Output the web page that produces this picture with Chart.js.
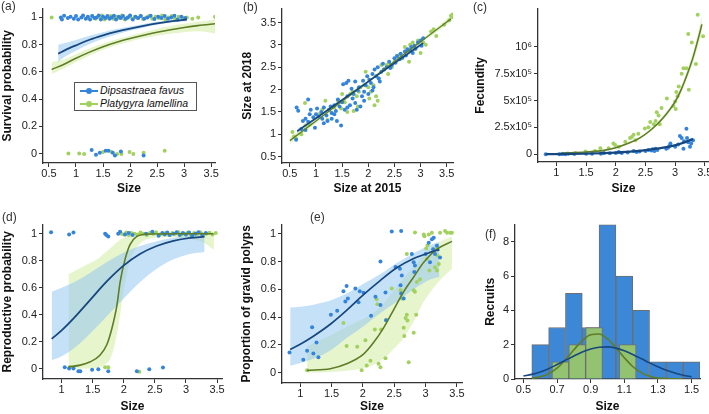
<!DOCTYPE html>
<html><head><meta charset="utf-8">
<script src="https://cdn.jsdelivr.net/npm/chart.js@4.4.1/dist/chart.umd.min.js"></script>
<style>
html,body{margin:0;padding:0;background:#fff;}
#wrap{position:relative;width:709px;height:414px;overflow:hidden;background:#fff;font-family:'Liberation Sans',Arial,sans-serif;}
canvas{position:absolute;}
.plab{position:absolute;font-size:12px;line-height:12px;color:#333;}
#leg{position:absolute;left:74px;top:82px;width:121px;height:27px;border:1px solid #555;background:#fff;z-index:5;font-size:10.5px;font-style:italic;color:#111;}
.row{position:absolute;left:0;width:121px;height:13px;line-height:13px;white-space:nowrap;}
.sym{position:absolute;left:5px;top:5.5px;width:18px;height:2px;}
.dotm{position:absolute;left:6px;top:-2px;width:6px;height:6px;border-radius:50%;}
.txt{position:absolute;left:25px;top:0;}
</style></head>
<body><div id="wrap"></div>
<script>
// ---------------- DATA ----------------
const seriesNames = ['Dipsastraea favus', 'Platygyra lamellina'];
const panelLabels = ['(a)', '(b)', '(c)', '(d)', '(e)', '(f)'];

// axis ticks / labels
const ticksSize05 = [0.5, 1, 1.5, 2, 2.5, 3, 3.5];
const labelsSize05 = ['0.5', '1', '1.5', '2', '2.5', '3', '3.5'];
const ticksSize1 = [1, 1.5, 2, 2.5, 3, 3.5];
const labelsSize1 = ['1', '1.5', '2', '2.5', '3', '3.5'];
const ticksProb = [0, 0.2, 0.4, 0.6, 0.8, 1];
const labelsProb = ['0', '0.2', '0.4', '0.6', '0.8', '1'];
const ticksFec = [0, 250000, 500000, 750000, 1000000];
const labelsFec = ['0', '2.5x10\u2075', '5x10\u2075', '7.5x10\u2075', '10\u2076'];
const ticksRecX = [0.5, 0.7, 0.9, 1.1, 1.3, 1.5];
const labelsRecX = ['0.5', '0.7', '0.9', '1.1', '1.3', '1.5'];
const ticksRecY = [0, 2, 4, 6, 8];
const labelsRecY = ['0', '2', '4', '6', '8'];

// (a) survival
const survBlueX = [0.72,0.74,0.78,0.85,0.9,0.96,1.0,1.04,1.1,1.13,1.18,1.22,1.26,1.3,1.34,1.38,1.42,1.46,1.5,1.54,1.58,1.62,1.66,1.7,1.74,1.79,1.83,1.87,1.92,1.96,2.0,2.05,2.1,2.15,2.2,2.26,2.32,2.38,2.45,2.52,2.58,2.64,2.7,2.76,2.82,2.88,2.95,3.02,
  1.29,1.37,1.44,1.55,1.60,1.68,1.72,1.83,2.25];
const survBlueY = [1.0,0.985,1.012,0.995,1.005,0.99,1.01,0.985,1.0,1.015,0.99,1.005,0.985,1.01,0.995,1.0,1.015,0.985,1.005,0.995,1.01,0.99,1.0,1.012,0.985,1.005,0.995,1.01,0.99,1.0,1.015,0.985,1.005,0.995,1.01,0.99,1.0,1.012,0.988,1.005,0.995,1.01,0.99,1.0,1.012,0.985,1.005,0.995,
  0.025,-0.01,0.005,0.02,0.02,0.005,-0.015,0.015,-0.015];
const survGreenX = [0.55,1.22,1.3,1.36,1.43,1.48,1.53,1.58,1.64,1.69,1.74,1.8,1.85,1.9,1.95,2.0,2.04,2.09,2.14,2.19,2.24,2.3,2.35,2.41,2.47,2.53,2.59,2.65,2.71,2.77,2.83,2.9,2.97,3.05,3.15,3.26,3.57,3.6,
  0.86,1.06,1.15,1.50,1.65,1.76,1.84,1.99,2.06,2.25,2.64];
const survGreenY = [1.0,0.995,1.01,0.99,1.005,1.015,0.985,1.0,1.01,0.99,1.005,0.995,1.015,0.985,1.0,1.01,0.99,1.005,0.995,1.012,0.988,1.0,1.01,0.99,1.005,0.995,1.015,0.985,1.0,1.01,0.99,1.005,0.995,1.0,0.99,1.0,1.005,0.995,
  0.0,0.0,-0.003,0.01,0.012,-0.004,-0.004,0.01,-0.003,0.005,0.02];
const survFitBlueX = [0.67,0.8,1.0,1.25,1.5,1.75,2.0,2.25,2.5,2.75,3.05];
const survFitBlueY = [0.734,0.76,0.795,0.836,0.868,0.895,0.918,0.938,0.956,0.971,0.985];
const survFitBlueLo = [0.675,0.712,0.755,0.805,0.843,0.875,0.902,0.925,0.946,0.962,0.972];
const survFitBlueHi = [0.80,0.812,0.835,0.866,0.892,0.915,0.934,0.952,0.968,0.982,0.995];
const survFitGreenX = [0.55,0.8,1.0,1.25,1.5,1.75,2.0,2.25,2.5,2.75,3.0,3.25,3.6];
const survFitGreenY = [0.617,0.66,0.70,0.745,0.785,0.818,0.845,0.869,0.891,0.910,0.926,0.940,0.955];
const survFitGreenLo = [0.585,0.63,0.672,0.72,0.762,0.796,0.823,0.847,0.866,0.881,0.892,0.898,0.88];
const survFitGreenHi = [0.67,0.695,0.73,0.772,0.808,0.839,0.866,0.891,0.916,0.937,0.954,0.969,0.985];

// (b) growth
const growBlueX = [0.63,0.66,0.62,0.85,0.72,0.75,0.80,0.85,0.88,0.90,0.95,1.00,1.02,1.05,1.10,1.12,1.15,1.20,1.22,1.25,1.30,1.30,1.35,1.38,1.40,1.45,1.48,1.50,1.52,1.55,1.58,1.60,1.62,1.65,1.70,1.72,1.75,1.78,1.80,1.82,1.85,1.88,1.90,1.92,1.95,1.98,2.00,2.02,2.05,2.08,2.10,2.12,2.15,2.18,2.20,2.25,2.28,2.30,2.35,2.40,2.42,2.45,2.50,2.52,2.55,2.60,2.62,2.65,2.70,2.72,2.75,2.80,2.82,2.85,2.88,2.90,2.95,3.00,3.02,3.05,1.15,0.98,1.28,1.42,1.68,2.08,2.22,1.75,1.92,1.60,1.35,0.80];
const growBlueY = [1.60,1.53,0.88,1.78,1.12,1.30,1.35,1.28,1.45,1.55,1.38,1.45,1.58,1.40,1.50,1.35,1.60,1.42,1.30,1.55,1.48,1.35,1.65,1.52,1.30,1.62,1.20,1.72,2.12,1.55,2.15,1.85,2.20,1.65,1.80,1.90,2.18,1.55,1.98,2.05,1.62,1.85,2.20,1.95,2.10,2.30,1.90,2.22,2.15,2.35,2.05,2.45,2.30,2.50,2.25,2.40,2.58,2.45,2.50,2.62,2.48,2.55,2.70,2.60,2.75,2.68,2.80,2.72,2.85,2.76,2.90,2.88,2.95,2.82,2.98,2.92,3.05,3.10,2.98,3.15,1.25,1.15,1.62,1.78,2.02,1.98,2.18,1.70,1.75,1.60,1.45,1.10];
const growGreenX = [0.55,0.58,0.62,0.72,0.80,0.88,0.79,1.05,1.12,1.18,1.22,1.30,1.35,1.42,1.48,1.55,1.60,1.65,1.70,1.72,1.78,1.80,1.82,1.85,1.92,1.95,2.00,2.02,2.05,2.10,2.15,2.18,2.20,2.25,2.30,2.35,2.38,2.40,2.45,2.50,2.55,2.60,2.65,2.70,2.75,2.78,2.80,2.85,2.90,2.95,3.00,3.05,3.10,3.20,3.25,3.30,3.45,3.55,3.58,3.60,3.61,2.12,1.50];
const growGreenY = [1.05,0.95,0.90,1.00,1.20,1.22,1.70,1.45,1.55,1.75,1.32,1.48,1.60,1.75,1.58,1.72,1.50,1.90,1.95,1.52,1.85,1.62,1.95,2.05,2.10,2.40,2.05,1.80,1.95,2.10,1.85,1.75,2.25,2.55,2.45,2.55,2.35,2.60,2.50,2.62,2.75,2.78,2.70,2.95,2.85,2.62,3.00,3.05,2.90,3.10,2.82,3.05,3.00,3.30,3.35,3.20,3.45,3.55,3.65,3.62,3.68,1.65,1.90];
const growFitBlueX = [0.64,1.0,1.5,2.0,2.5,3.05];
const growFitBlueY = [1.07,1.36,1.77,2.18,2.59,3.04];
const growFitBlueLo = [1.02,1.33,1.745,2.16,2.565,2.99];
const growFitBlueHi = [1.12,1.39,1.795,2.20,2.615,3.09];
const growFitGreenX = [0.5,1.0,1.5,2.0,2.5,3.0,3.58];
const growFitGreenY = [0.86,1.30,1.74,2.18,2.63,3.07,3.58];
const growFitGreenLo = [0.79,1.25,1.705,2.15,2.60,3.03,3.51];
const growFitGreenHi = [0.93,1.35,1.775,2.21,2.66,3.11,3.65];

// (c) fecundity
const fecBlueX = [0.82,1.05,1.10,1.15,1.20,1.30,1.50,1.60,1.75,1.80,1.90,2.00,2.05,2.10,2.20,2.30,2.35,2.40,2.50,2.55,2.60,2.62,2.65,2.67,2.70,2.85,2.88,2.90,2.92,3.00,3.05,3.08,3.11,3.14,3.15,3.19,3.20,3.22,3.25,3.30,3.27];
const fecBlueY = [0,0,2000,0,3000,2000,4000,5000,3000,10000,8000,12000,20000,10000,15000,30000,20000,25000,30000,40000,35000,45000,30000,50000,40000,50000,60000,75000,100000,70000,90000,170000,150000,50000,120000,236000,150000,110000,70000,130000,100000];
const fecGreenX = [3.38,3.22,3.28,3.35,3.47,3.23,3.14,3.11,3.19,3.06,3.02,3.04,3.00,2.97,3.01,2.86,2.77,2.69,2.72,2.67,2.74,2.64,2.55,2.49,2.58,2.38,2.30,2.27,2.24,2.33,2.16,2.05,1.99,1.96,1.88,1.74,1.65,1.49,1.32,1.18,1.10];
const fecGreenY = [1300000,1120000,1040000,840000,1100000,600000,800000,750000,800000,630000,580000,540000,490000,450000,420000,520000,430000,390000,360000,310000,280000,280000,250000,240000,300000,190000,180000,160000,150000,130000,115000,70000,85000,100000,55000,55000,30000,24000,12000,6000,3000];
const fecFitBlueX = [0.82,1.2,1.6,2.0,2.3,2.6,2.9,3.1,3.3];
const fecFitBlueY = [0,2000,6000,15000,26000,45000,70000,100000,140000];
const fecFitBlueLo = [0,1000,4000,12000,22000,39000,62000,88000,122000];
const fecFitBlueHi = [1000,3000,8000,18000,30000,51000,78000,112000,158000];
const fecFitGreenX = [1.1,1.5,1.8,2.0,2.2,2.4,2.6,2.8,3.0,3.1,3.2,3.3,3.4,3.45];
const fecFitGreenY = [10000,20000,35000,60000,100000,150000,230000,340000,490000,600000,740000,900000,1100000,1210000];
const fecFitGreenLo = [8000,16000,28000,52000,90000,138000,215000,320000,465000,570000,700000,850000,1035000,1135000];
const fecFitGreenHi = [12000,24000,42000,68000,110000,162000,245000,360000,515000,630000,780000,950000,1165000,1290000];

// (d) reproductive probability
const repBlueX = [0.83,1.12,1.19,1.70,1.72,1.75,1.91,1.94,2.02,2.08,2.14,2.36,2.46,2.56,2.62,2.66,2.70,2.74,2.80,2.85,2.90,2.95,3.00,3.05,3.10,3.15,3.20,3.26,3.32,
  1.05,1.12,1.19,1.27,1.30,1.49,1.59,1.75,2.21,2.41,2.63];
const repBlueY = [1.012,0.995,1.01,1.0,0.99,0.98,1.0,1.015,0.995,1.005,0.99,1.0,1.015,0.985,1.005,0.995,1.01,0.99,1.0,1.012,0.99,1.005,0.995,1.01,0.985,1.0,1.012,0.995,1.005,
  0.01,0.0,0.0,-0.02,-0.02,-0.01,-0.005,-0.02,-0.02,-0.005,0.007];
const repGreenX = [1.96,2.00,2.04,2.08,2.12,2.17,2.22,2.27,2.32,2.37,2.42,2.47,2.52,2.58,2.63,2.68,2.73,2.78,2.83,2.88,2.93,2.98,3.03,3.08,3.13,3.18,3.23,3.28,3.33,3.38,3.43,3.48,
  1.13,1.19,1.70,1.75,2.25];
const repGreenY = [1.0,0.995,1.01,0.99,1.005,1.0,0.995,1.01,1.0,0.99,1.005,1.0,1.012,0.995,1.0,1.008,0.99,1.005,1.0,1.012,0.995,1.0,1.01,0.99,1.005,1.0,1.012,0.995,1.0,1.008,0.995,1.005,
  0.01,0.005,0.01,0.01,-0.025];
const repFitBlueX = [0.84,1.0,1.2,1.46,1.73,2.0,2.26,2.53,2.8,3.07,3.3];
const repFitBlueY = [0.22,0.283,0.376,0.51,0.648,0.765,0.85,0.909,0.947,0.969,0.978];
const repFitBlueLo = [0.06,0.09,0.15,0.26,0.39,0.52,0.64,0.74,0.81,0.85,0.865];
const repFitBlueHi = [0.57,0.60,0.64,0.71,0.79,0.86,0.91,0.945,0.97,0.985,0.99];
const repFitGreenX = [1.11,1.3,1.46,1.62,1.73,1.81,1.89,1.94,2.02,2.10,2.21,2.37,2.8,3.44];
const repFitGreenY = [0.012,0.025,0.05,0.10,0.18,0.30,0.47,0.64,0.81,0.92,0.98,0.997,1.0,1.0];
const repBandGreenX = [1.11,1.4,1.6,1.7,1.8,1.9,2.0,2.1,2.25,2.5,2.8,3.1,3.3,3.45];
const repBandGreenLo = [0.0,0.0,0.01,0.03,0.09,0.28,0.58,0.80,0.92,0.97,0.975,0.96,0.93,0.88];
const repBandGreenHi = [0.70,0.77,0.82,0.86,0.90,0.94,0.97,0.99,1.0,1.0,1.0,1.0,1.0,1.0];

// (e) proportion of gravid polyps
const gravBlueX = [0.83,1.05,1.11,1.19,1.21,1.26,1.29,1.49,1.59,1.69,1.72,1.74,1.76,1.88,1.93,1.95,2.01,2.13,2.20,2.28,2.28,2.36,2.37,2.46,2.52,2.59,2.60,2.61,2.61,2.62,2.65,2.78,2.81,2.82,2.83,3.00,3.05,3.07,3.10,3.13,3.12,3.15,3.23,3.18];
const gravBlueY = [0.146,0.094,0.158,0.328,0.139,0.217,0.111,0.417,0.446,0.587,0.512,0.625,0.535,0.606,0.507,0.587,0.575,0.41,0.547,0.80,0.488,0.578,0.377,1.017,0.76,0.748,0.63,0.571,1.02,0.70,0.535,0.854,0.795,0.724,0.771,0.854,0.936,0.795,0.96,0.972,0.889,0.854,0.83,0.913];
const gravGreenX = [1.11,1.69,1.74,1.91,1.98,2.04,2.06,2.12,2.19,2.22,2.23,2.25,2.28,2.29,2.36,2.37,2.46,2.60,2.62,2.65,2.66,2.68,2.70,2.71,2.73,2.81,2.81,2.83,2.85,2.70,2.83,2.86,2.91,2.97,2.98,3.01,3.02,3.03,3.05,3.06,3.10,3.15,3.18,3.21,3.23,3.31,3.34,3.39,3.42,3.17,3.19];
const gravGreenY = [0.017,0.358,0.193,0.186,0.017,0.233,0.052,0.087,0.311,0.528,0.493,0.064,0.04,0.311,0.104,0.38,0.606,0.594,0.535,0.323,0.264,0.394,0.417,0.375,0.075,0.288,0.594,0.583,0.417,0.854,1.01,0.653,0.672,0.995,0.983,0.894,0.818,0.917,0.995,0.736,1.007,0.759,0.736,0.783,1.007,1.02,1.007,1.007,1.007,0.889,0.842];
const gravFitBlueX = [0.84,1.0,1.21,1.48,1.74,2.01,2.28,2.54,2.81,3.07,3.22];
const gravFitBlueY = [0.167,0.205,0.263,0.349,0.449,0.562,0.665,0.755,0.822,0.866,0.886];
const gravFitBlueLo = [0.05,0.07,0.10,0.16,0.25,0.335,0.43,0.51,0.60,0.67,0.69];
const gravFitBlueHi = [0.47,0.475,0.49,0.52,0.57,0.64,0.71,0.79,0.86,0.92,0.94];
const gravFitGreenX = [1.11,1.48,1.74,2.01,2.17,2.33,2.49,2.65,2.81,2.97,3.18,3.42];
const gravFitGreenY = [0.017,0.028,0.064,0.134,0.217,0.323,0.453,0.583,0.689,0.795,0.889,0.945];
const gravFitGreenLo = [0.0,0.005,0.015,0.03,0.055,0.10,0.17,0.25,0.37,0.51,0.64,0.75];
const gravFitGreenHi = [0.19,0.27,0.33,0.39,0.43,0.50,0.59,0.68,0.76,0.85,0.93,0.98];

// (f) recruits histogram
const recBlueBinX = [0.6,0.7,0.8,0.9,1.0,1.1,1.2,1.3,1.4,1.5];
const recBlueCount = [2,3,5,3,9,6,4,1,1,1];
const recGreenBinX = [0.72,0.82,0.92,1.12];
const recGreenCount = [1,2,3,2];
const recNormBlueX = [0.5,0.55,0.6,0.65,0.7,0.75,0.8,0.85,0.9,0.95,1.0,1.05,1.1,1.15,1.2,1.25,1.3,1.35,1.4,1.45,1.5];
const recNormBlueY = [0.17,0.27,0.41,0.6,0.84,1.09,1.34,1.57,1.75,1.85,1.87,1.8,1.64,1.43,1.19,0.94,0.71,0.51,0.35,0.22,0.13];
const recNormGreenX = [0.55,0.6,0.65,0.7,0.75,0.8,0.85,0.9,0.95,1.0,1.05,1.1,1.15,1.2,1.25,1.3,1.35,1.45];
const recNormGreenY = [0.05,0.13,0.31,0.63,1.12,1.70,2.24,2.58,2.62,2.34,1.82,1.24,0.73,0.37,0.16,0.06,0.02,0.0];

// ---------------- STYLE ----------------
const FONT = "'Liberation Sans', Arial, Helvetica, sans-serif";
const COL = {
  blueDot: '#3584db', greenDot: '#a2d160',
  blueLine: '#17477f', greenLine: '#5f7d26',
  blueBand: 'rgba(150,200,243,0.55)', greenBand: 'rgba(214,238,170,0.6)',
  blueBar: '#3d88d6', greenBar: '#93c270', barEdge: '#6e6e6e'
};

const wrap = document.getElementById('wrap');
const pts = (xs, ys) => xs.map((x, i) => ({x: x, y: ys[i]}));

function makeCanvas(p) {
  const c = document.createElement('canvas');
  c.width = p.w; c.height = p.h;
  c.style.left = p.left + 'px'; c.style.top = p.top + 'px';
  c.style.width = p.w + 'px'; c.style.height = p.h + 'px';
  wrap.appendChild(c);
  return c;
}

function axis(a, pos) {
  return {
    type: 'linear', position: pos, min: a.min, max: a.max, offset: false, display: true,
    afterBuildTicks: s => { s.ticks = a.ticks.map(v => ({value: v})); },
    afterFit: s => { if (pos === 'left') s.width = a.size; else s.height = a.size; },
    ticks: {autoSkip: false, maxRotation: 0, minRotation: 0, padding: pos === 'left' ? 2 : 0,
      color: '#222', font: {family: FONT, size: 11}, callback: (v, i) => a.labels[i]},
    grid: {display: true, drawOnChartArea: false, drawTicks: true, tickLength: 4,
      tickColor: '#333', color: '#333', lineWidth: 1, offset: false},
    border: {display: true, color: '#333', width: 1.3},
    title: {display: true, text: a.title, color: '#111',
      font: {family: FONT, size: 12, weight: 'bold'}, padding: a.tpad}
  };
}

function baseOptions(p, xa, ya) {
  return {
    responsive: false, animation: false, devicePixelRatio: 1, events: [],
    layout: {padding: {top: p.padTop, right: p.padRight, bottom: 0, left: 0}},
    plugins: {legend: {display: false}, tooltip: {enabled: false}},
    scales: {x: axis(xa, 'bottom'), y: axis(ya, 'left')}
  };
}

const dots = (data, color) => ({data, showLine: false, pointRadius: 2, pointHoverRadius: 2,
  pointBackgroundColor: color, pointBorderWidth: 0, borderColor: color, backgroundColor: color, order: 2});
const curve = (data, color, w) => ({data, showLine: true, pointRadius: 0, borderColor: color,
  borderWidth: w, fill: false, cubicInterpolationMode: 'monotone', order: 1});
const bandLo = (data) => ({data, showLine: true, pointRadius: 0, borderWidth: 0,
  borderColor: 'rgba(0,0,0,0)', fill: false, cubicInterpolationMode: 'monotone', order: 3});
const bandHi = (data, color) => ({data, showLine: true, pointRadius: 0, borderWidth: 0,
  borderColor: 'rgba(0,0,0,0)', backgroundColor: color, fill: '-1', cubicInterpolationMode: 'monotone', order: 3});

function panel(p, xa, ya, sets) {
  const c = makeCanvas(p);
  new Chart(c.getContext('2d'), {type: 'line', data: {datasets: sets}, options: baseOptions(p, xa, ya)});
}

// (a)
panel({left: 0, top: 0, w: 227, h: 198, padTop: 5, padRight: 12},
  {min: 0.39, max: 3.57, ticks: ticksSize05, labels: labelsSize05, size: 35, title: 'Size', tpad: {top: 0, bottom: 2}},
  {min: -0.07, max: 1.065, ticks: ticksProb, labels: labelsProb, size: 43, title: 'Survival probability', tpad: {top: 0.8, bottom: 0}},
  [curve(pts(survFitBlueX, survFitBlueY), COL.blueLine, 1.8),
   curve(pts(survFitGreenX, survFitGreenY), COL.greenLine, 1.6),
   dots(pts(survBlueX, survBlueY), COL.blueDot),
   dots(pts(survGreenX, survGreenY), COL.greenDot),
   bandLo(pts(survFitBlueX, survFitBlueLo)), bandHi(pts(survFitBlueX, survFitBlueHi), COL.blueBand),
   bandLo(pts(survFitGreenX, survFitGreenLo)), bandHi(pts(survFitGreenX, survFitGreenHi), COL.greenBand)]);

// (b)
panel({left: 237, top: 0, w: 228, h: 198, padTop: 5, padRight: 12},
  {min: 0.35, max: 3.62, ticks: ticksSize05, labels: labelsSize05, size: 35, title: 'Size at 2015', tpad: {top: 0, bottom: 2}},
  {min: 0.36, max: 3.81, ticks: ticksSize05, labels: labelsSize05, size: 45, title: 'Size at 2018', tpad: {top: 3.8, bottom: 0}},
  [curve(pts(growFitBlueX, growFitBlueY), COL.blueLine, 1.6),
   curve(pts(growFitGreenX, growFitGreenY), COL.greenLine, 1.3),
   dots(pts(growBlueX, growBlueY), COL.blueDot),
   dots(pts(growGreenX, growGreenY), COL.greenDot),
   bandLo(pts(growFitBlueX, growFitBlueLo)), bandHi(pts(growFitBlueX, growFitBlueHi), COL.blueBand),
   bandLo(pts(growFitGreenX, growFitGreenLo)), bandHi(pts(growFitGreenX, growFitGreenHi), COL.greenBand)]);

// (c)
panel({left: 473, top: 0, w: 248, h: 198, padTop: 5, padRight: 12},
  {min: 0.69, max: 3.57, ticks: ticksSize1, labels: labelsSize1, size: 36, title: 'Size', tpad: {top: 0, bottom: 2}},
  {min: -73000, max: 1357000, ticks: ticksFec, labels: labelsFec, size: 65, title: 'Fecundity', tpad: {top: 0.8, bottom: 0}},
  [curve(pts(fecFitBlueX, fecFitBlueY), COL.blueLine, 2.2),
   curve(pts(fecFitGreenX, fecFitGreenY), COL.greenLine, 1.6),
   dots(pts(fecBlueX, fecBlueY), COL.blueDot),
   dots(pts(fecGreenX, fecGreenY), COL.greenDot),
   bandLo(pts(fecFitBlueX, fecFitBlueLo)), bandHi(pts(fecFitBlueX, fecFitBlueHi), COL.blueBand),
   bandLo(pts(fecFitGreenX, fecFitGreenLo)), bandHi(pts(fecFitGreenX, fecFitGreenHi), COL.greenBand)]);

// (d)
panel({left: 0, top: 216, w: 234, h: 198, padTop: 6, padRight: 12},
  {min: 0.70, max: 3.58, ticks: ticksSize1, labels: labelsSize1, size: 35, title: 'Size', tpad: {top: 0, bottom: 0}},
  {min: -0.078, max: 1.068, ticks: ticksProb, labels: labelsProb, size: 43, title: 'Reproductive probability', tpad: {top: 0.8, bottom: 0}},
  [curve(pts(repFitBlueX, repFitBlueY), COL.blueLine, 1.8),
   curve(pts(repFitGreenX, repFitGreenY), COL.greenLine, 1.6),
   dots(pts(repBlueX, repBlueY), COL.blueDot),
   dots(pts(repGreenX, repGreenY), COL.greenDot),
   bandLo(pts(repFitBlueX, repFitBlueLo)), bandHi(pts(repFitBlueX, repFitBlueHi), COL.blueBand),
   bandLo(pts(repBandGreenX, repBandGreenLo)), bandHi(pts(repBandGreenX, repBandGreenHi), COL.greenBand)]);

// (e)
panel({left: 237, top: 216, w: 237, h: 198, padTop: 6, padRight: 12},
  {min: 0.71, max: 3.58, ticks: ticksSize1, labels: labelsSize1, size: 31, title: 'Size', tpad: {top: 0, bottom: 0}},
  {min: -0.074, max: 1.066, ticks: ticksProb, labels: labelsProb, size: 45, title: 'Proportion of gravid polyps', tpad: {top: 2.5, bottom: 0}},
  [curve(pts(gravFitBlueX, gravFitBlueY), COL.blueLine, 1.7),
   curve(pts(gravFitGreenX, gravFitGreenY), COL.greenLine, 1.6),
   dots(pts(gravBlueX, gravBlueY), COL.blueDot),
   dots(pts(gravGreenX, gravGreenY), COL.greenDot),
   bandLo(pts(gravFitBlueX, gravFitBlueLo)), bandHi(pts(gravFitBlueX, gravFitBlueHi), COL.blueBand),
   bandLo(pts(gravFitGreenX, gravFitGreenLo)), bandHi(pts(gravFitGreenX, gravFitGreenHi), COL.greenBand)]);

// (f) histogram
(function () {
  const p = {left: 473, top: 216, w: 236, h: 198, padTop: 7, padRight: 9};
  const xa = {min: 0.45, max: 1.55, ticks: ticksRecX, labels: labelsRecX, size: 35, title: 'Size', tpad: {top: 0, bottom: 0}};
  const ya = {min: 0, max: 9.0, ticks: ticksRecY, labels: labelsRecY, size: 42, title: 'Recruits', tpad: {top: 10.8, bottom: 0}};
  const opts = baseOptions(p, xa, ya);
  opts.scales.x2 = {type: 'linear', display: false, min: xa.min, max: xa.max, offset: false,
    afterBuildTicks: s => { s.ticks = xa.ticks.map(v => ({value: v})); }, grid: {offset: false}};
  const c = makeCanvas(p);
  new Chart(c.getContext('2d'), {
    type: 'bar',
    data: {datasets: [
      {type: 'line', data: pts(recNormBlueX, recNormBlueY), xAxisID: 'x', yAxisID: 'y', borderColor: COL.blueLine,
        borderWidth: 1.6, pointRadius: 0, fill: false, cubicInterpolationMode: 'monotone', order: 0},
      {type: 'line', data: pts(recNormGreenX, recNormGreenY), xAxisID: 'x', yAxisID: 'y', borderColor: COL.greenLine,
        borderWidth: 1.6, pointRadius: 0, fill: false, cubicInterpolationMode: 'monotone', order: 0},
      {type: 'bar', data: pts(recGreenBinX, recGreenCount), xAxisID: 'x2', yAxisID: 'y', backgroundColor: COL.greenBar,
        borderColor: COL.barEdge, borderWidth: 1, barPercentage: 1, categoryPercentage: 1, grouped: false, order: 1},
      {type: 'bar', data: pts(recBlueBinX, recBlueCount), xAxisID: 'x', yAxisID: 'y', backgroundColor: COL.blueBar,
        borderColor: COL.barEdge, borderWidth: 1, barPercentage: 1, categoryPercentage: 1, grouped: false, order: 2}
    ]},
    options: opts
  });
})();

// panel letters
const labPos = [[1, 0], [243, 1], [473, 1], [2, 211], [310, 211], [485, 228]];
panelLabels.forEach((t, i) => {
  const d = document.createElement('div');
  d.className = 'plab'; d.textContent = t;
  d.style.left = labPos[i][0] + 'px'; d.style.top = labPos[i][1] + 'px';
  wrap.appendChild(d);
});

// legend in (a)
const leg = document.createElement('div');
leg.id = 'leg';
[COL.blueDot, COL.greenDot].forEach((col, i) => {
  const r = document.createElement('div');
  r.className = 'row'; r.style.top = (1 + i * 13) + 'px';
  r.innerHTML = '<span class="sym" style="background:' + col + '"><span class="dotm" style="background:' + col + '"></span></span><span class="txt"></span>';
  r.querySelector('.txt').textContent = seriesNames[i];
  leg.appendChild(r);
});
wrap.appendChild(leg);
</script>
</body></html>
